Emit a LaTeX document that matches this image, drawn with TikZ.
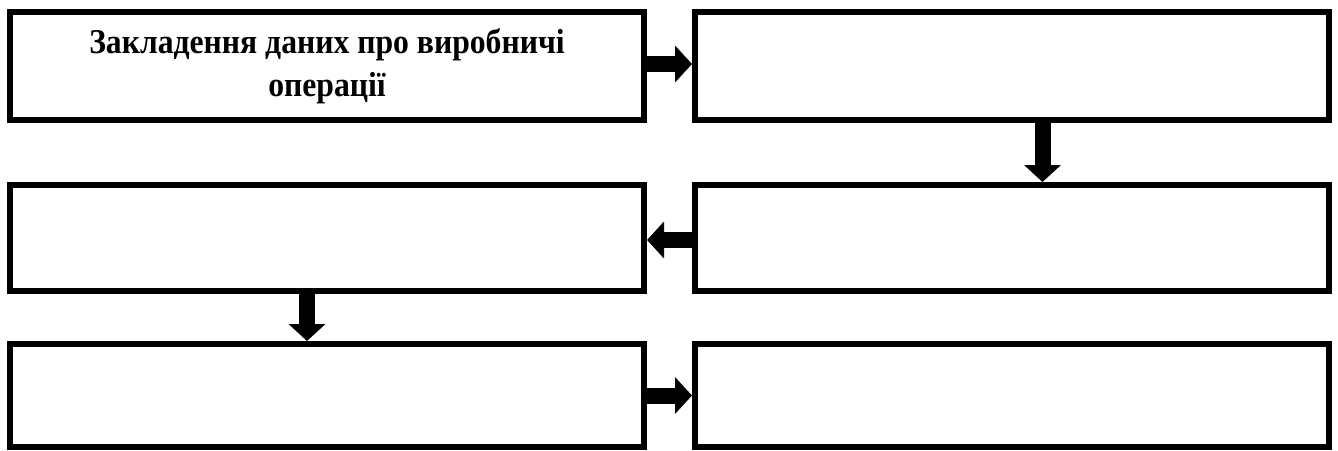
\documentclass[tikz,border=0pt]{standalone}
\usepackage{fontspec}
\setmainfont[FakeStretch=0.91]{Liberation Serif}
\usetikzlibrary{arrows.meta,positioning}
\tikzset{
    stagebox/.style={draw, line width=3pt, align=center, inner sep=0pt,
        font=\bfseries\fontsize{17.4}{21.3}\selectfont,
        minimum width=317pt, minimum height=53pt},
    stagearrow/.style={-{Triangle[length=8.5pt,width=18pt]}, line width=8pt}
}
\begin{document}
\begin{tikzpicture}[node distance=29.5pt and 22.5pt]
\useasboundingbox (0,0) rectangle (669pt,-225pt);
\node[stagebox, minimum height=54pt] (input) at (163.5pt,-33pt) {Закладення даних про виробничі\\операції};
\node[stagebox, minimum height=54pt, right=of input] (stepa) {};
\node[stagebox, below=of stepa] (stepb) {};
\node[stagebox, left=of stepb] (stepc) {};
\node[stagebox, minimum height=51.5pt, below=23.5pt of stepc] (stepd) {};
\node[stagebox, minimum height=51.5pt, right=of stepd] (stepe) {};
\draw[stagearrow] ([yshift=1pt]input.east) -- ([yshift=1pt]stepa.west);
\draw[stagearrow] ([xshift=15.25pt]stepa.south) -- ([xshift=15.25pt]stepb.north);
\draw[stagearrow] ([yshift=-1pt]stepb.west) -- ([yshift=-1pt]stepc.east);
\draw[stagearrow] ([xshift=-10pt]stepc.south) -- ([xshift=-10pt]stepd.north);
\draw[stagearrow] (stepd.east) -- (stepe.west);
\end{tikzpicture}
\end{document}
